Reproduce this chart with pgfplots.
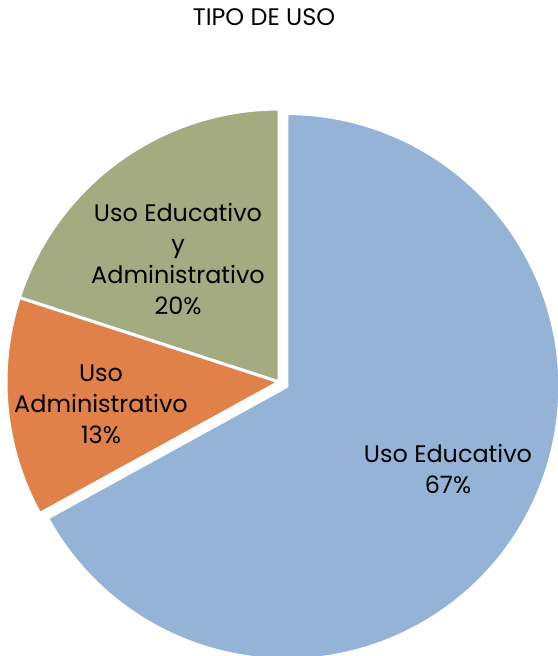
\documentclass[border=0pt]{standalone}
\usepackage{fontspec}
\setmainfont{Poppins}
\usepackage{pgfplots}
\usepackage{pgfplotstable}
\pgfplotsset{compat=1.18}
\definecolor{cEdu}{HTML}{95B3D7}
\definecolor{cAdm}{HTML}{E0814A}
\definecolor{cBoth}{HTML}{A5AB80}
\pgfplotstableread{
label value
Edu 67
Adm 13
Both 20
}\piedata
\pgfplotstablegetelem{0}{value}\of\piedata \let\vA\pgfplotsretval
\pgfplotstablegetelem{1}{value}\of\piedata \let\vB\pgfplotsretval
\pgfplotstablegetelem{2}{value}\of\piedata \let\vC\pgfplotsretval
\pgfmathsetmacro\tot{\vA+\vB+\vC}
\pgfmathsetmacro\aA{90-\vA/\tot*360}
\pgfmathsetmacro\aC{90+\vC/\tot*360}
\pgfmathsetmacro\aB{\aC+\vB/\tot*360}
\pgfmathsetmacro\midA{(\aA+90)/2}
\pgfmathsetmacro\cx{279}
\pgfmathsetmacro\cy{274}
\pgfmathsetmacro\bx{\cx+9*cos(\midA)}
\pgfmathsetmacro\by{\cy+9*sin(\midA)}
\def\R{273bp}
\begin{document}
\begin{tikzpicture}
\begin{axis}[width=558bp,height=656bp,scale only axis,
  xmin=0,xmax=558,ymin=0,ymax=656,hide axis,clip=false]
\coordinate (ll) at (axis cs:0,0);
\coordinate (ur) at (axis cs:558,656);
\filldraw[fill=cBoth,draw=white,line width=3bp,line join=round]
  (axis cs:\cx,\cy) -- ++(90:\R) arc[start angle=90,end angle=\aC,radius=\R] -- cycle;
\filldraw[fill=cAdm,draw=white,line width=3bp,line join=round]
  (axis cs:\cx,\cy) -- ++(\aC:\R) arc[start angle=\aC,end angle=\aB,radius=\R] -- cycle;
\filldraw[fill=cEdu,draw=white,line width=3bp,line join=round]
  (axis cs:\bx,\by) -- ++(\aA:\R) arc[start angle=\aA,end angle=90,radius=\R] -- cycle;
\node[font=\fontsize{24}{28}\selectfont] at (axis cs:264,639) {TIPO DE USO};
\node[align=center,font=\fontsize{24}{31}\selectfont] at (axis cs:448,187) {Uso Educativo\\67\%};
\node[align=center,font=\fontsize{24}{31}\selectfont] at (axis cs:101,252) {Uso\\Administrativo\\13\%};
\node[align=center,font=\fontsize{24}{31}\selectfont] at (axis cs:178,397) {Uso Educativo\\y\\Administrativo\\20\%};
\end{axis}
\pgfresetboundingbox
\path[use as bounding box] (ll) rectangle (ur);
\end{tikzpicture}
\end{document}
